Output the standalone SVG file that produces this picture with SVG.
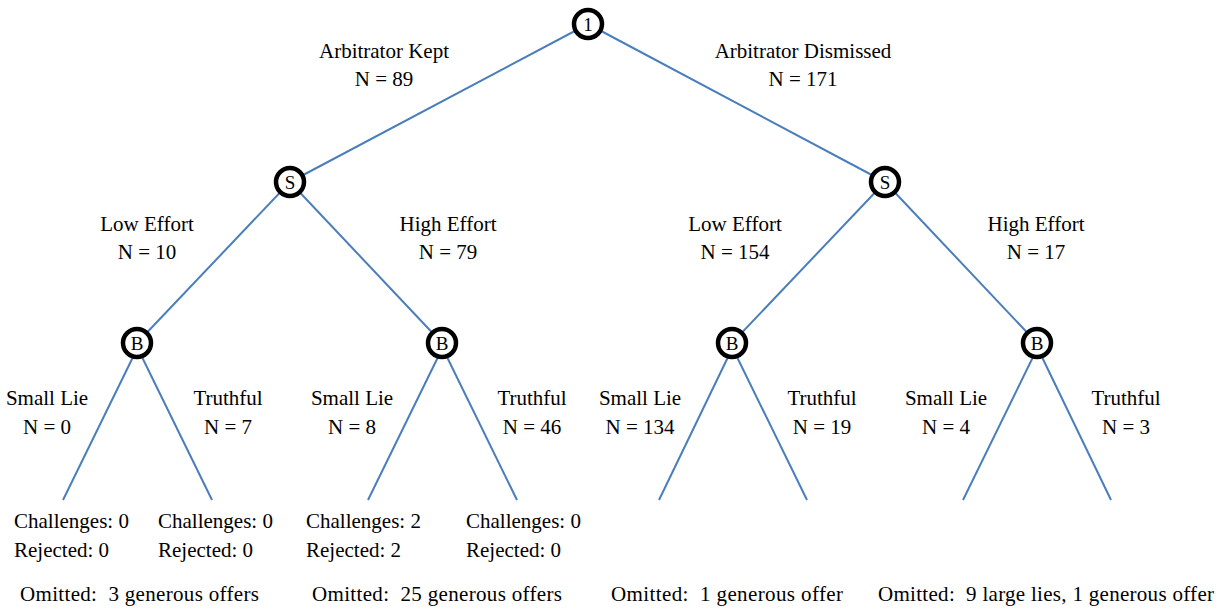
<svg xmlns="http://www.w3.org/2000/svg" width="1222" height="609" viewBox="0 0 1222 609">
<style>
.edge{stroke:#4a7ebb;stroke-width:2;fill:none}
.node circle{fill:#fff;stroke:#000;stroke-width:4.5}
.node text{font-size:19px;text-anchor:middle;fill:#000}
.lbl{font-size:21px;fill:#000}
.c{text-anchor:middle}
</style>
<rect width="1222" height="609" fill="#fff"/>
<g id="connectors">
<line class="edge" x1="588" y1="24" x2="290" y2="182"/>
<line class="edge" x1="588" y1="24" x2="885" y2="182"/>
<line class="edge" x1="290" y1="182" x2="137" y2="343"/>
<line class="edge" x1="290" y1="182" x2="442" y2="343"/>
<line class="edge" x1="885" y1="182" x2="732" y2="343"/>
<line class="edge" x1="885" y1="182" x2="1037" y2="343"/>
<line class="edge" x1="134" y1="355" x2="63" y2="500"/>
<line class="edge" x1="141" y1="355" x2="212" y2="500"/>
<line class="edge" x1="439" y1="355" x2="368" y2="500"/>
<line class="edge" x1="446" y1="355" x2="517" y2="500"/>
<line class="edge" x1="729" y1="355" x2="659" y2="500"/>
<line class="edge" x1="736" y1="355" x2="807" y2="500"/>
<line class="edge" x1="1034" y1="355" x2="963" y2="500"/>
<line class="edge" x1="1041" y1="355" x2="1111" y2="500"/>
</g>
<g font-family="'Liberation Serif', 'DejaVu Serif', 'Times New Roman', serif">
<g id="node-root" class="node"><circle cx="588" cy="24" r="14"/><text x="588" y="31">1</text></g>
<g id="node-s-left" class="node"><circle cx="290" cy="182" r="14"/><text x="290" y="189">S</text></g>
<g id="node-s-right" class="node"><circle cx="885" cy="182" r="14"/><text x="885" y="189">S</text></g>
<g id="node-b1" class="node"><circle cx="137" cy="343" r="14"/><text x="137" y="350">B</text></g>
<g id="node-b2" class="node"><circle cx="442" cy="343" r="14"/><text x="442" y="350">B</text></g>
<g id="node-b3" class="node"><circle cx="732" cy="343" r="14"/><text x="732" y="350">B</text></g>
<g id="node-b4" class="node"><circle cx="1037" cy="343" r="14"/><text x="1037" y="350">B</text></g>
<g id="labels">
<text class="lbl c" x="384" y="58">Arbitrator Kept</text>
<text class="lbl c" x="384" y="86">N = 89</text>
<text class="lbl c" x="803" y="58">Arbitrator Dismissed</text>
<text class="lbl c" x="803" y="86">N = 171</text>
<text class="lbl c" x="147" y="231">Low Effort</text>
<text class="lbl c" x="147" y="259">N = 10</text>
<text class="lbl c" x="448" y="231">High Effort</text>
<text class="lbl c" x="448" y="259">N = 79</text>
<text class="lbl c" x="735" y="231">Low Effort</text>
<text class="lbl c" x="735" y="259">N = 154</text>
<text class="lbl c" x="1036" y="231">High Effort</text>
<text class="lbl c" x="1036" y="259">N = 17</text>
<text class="lbl c" x="47" y="405">Small Lie</text>
<text class="lbl c" x="47" y="434">N = 0</text>
<text class="lbl c" x="228" y="405">Truthful</text>
<text class="lbl c" x="228" y="434">N = 7</text>
<text class="lbl c" x="352" y="405">Small Lie</text>
<text class="lbl c" x="352" y="434">N = 8</text>
<text class="lbl c" x="532" y="405">Truthful</text>
<text class="lbl c" x="532" y="434">N = 46</text>
<text class="lbl c" x="640" y="405">Small Lie</text>
<text class="lbl c" x="640" y="434">N = 134</text>
<text class="lbl c" x="822" y="405">Truthful</text>
<text class="lbl c" x="822" y="434">N = 19</text>
<text class="lbl c" x="946" y="405">Small Lie</text>
<text class="lbl c" x="946" y="434">N = 4</text>
<text class="lbl c" x="1126" y="405">Truthful</text>
<text class="lbl c" x="1126" y="434">N = 3</text>
<text class="lbl" x="14" y="528">Challenges: 0</text>
<text class="lbl" x="14" y="557">Rejected: 0</text>
<text class="lbl" x="158" y="528">Challenges: 0</text>
<text class="lbl" x="158" y="557">Rejected: 0</text>
<text class="lbl" x="306" y="528">Challenges: 2</text>
<text class="lbl" x="306" y="557">Rejected: 2</text>
<text class="lbl" x="466" y="528">Challenges: 0</text>
<text class="lbl" x="466" y="557">Rejected: 0</text>
<text class="lbl" x="20" y="601" xml:space="preserve" textLength="239">Omitted:  3 generous offers</text>
<text class="lbl" x="312" y="601" xml:space="preserve" textLength="250">Omitted:  25 generous offers</text>
<text class="lbl" x="611" y="601" xml:space="preserve" textLength="232">Omitted:  1 generous offer</text>
<text class="lbl" x="878" y="601" xml:space="preserve" textLength="336">Omitted:  9 large lies, 1 generous offer</text>
</g>
</g>
</svg>
